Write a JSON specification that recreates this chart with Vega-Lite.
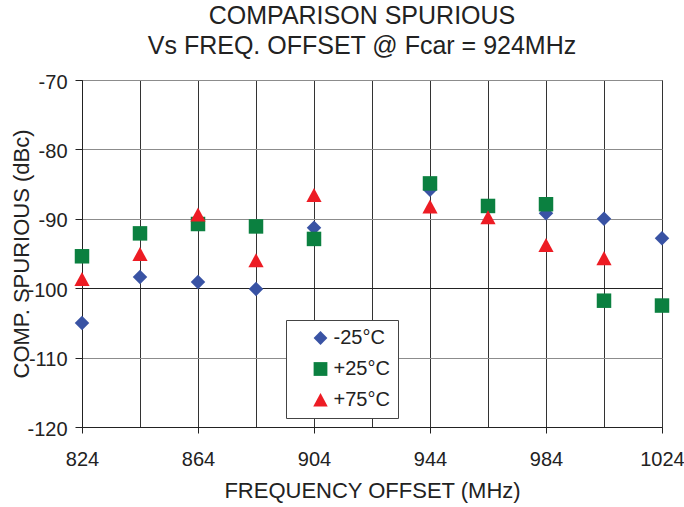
{
  "$schema": "https://vega.github.io/schema/vega-lite/v6.json",
  "width": 580,
  "height": 347,
  "autosize": {"type": "none"},
  "padding": {"left": 82, "top": 80, "right": 22, "bottom": 80},
  "background": "white",
  "config": {
    "font": "Liberation Sans",
    "view": {"stroke": "#222", "strokeWidth": 1}
  },
  "title": {
    "text": ["COMPARISON SPURIOUS", "Vs FREQ. OFFSET @ Fcar = 924MHz"],
    "fontSize": 25,
    "fontWeight": "normal",
    "font": "Liberation Sans",
    "color": "#222",
    "lineHeight": 30,
    "anchor": "middle",
    "frame": "group",
    "baseline": "bottom",
    "offset": 18,
    "dx": -10,
    "dy": 30
  },
  "data": {
    "values": [
      {"freq": 824, "level": -105.0, "temp": "-25°C"},
      {"freq": 844, "level": -98.4, "temp": "-25°C"},
      {"freq": 864, "level": -99.1, "temp": "-25°C"},
      {"freq": 884, "level": -100.1, "temp": "-25°C"},
      {"freq": 904, "level": -91.3, "temp": "-25°C"},
      {"freq": 944, "level": -85.8, "temp": "-25°C"},
      {"freq": 984, "level": -89.2, "temp": "-25°C"},
      {"freq": 1004, "level": -90.0, "temp": "-25°C"},
      {"freq": 1024, "level": -92.8, "temp": "-25°C"},
      {"freq": 824, "level": -95.4, "temp": "+25°C"},
      {"freq": 844, "level": -92.1, "temp": "+25°C"},
      {"freq": 864, "level": -90.75, "temp": "+25°C"},
      {"freq": 884, "level": -91.1, "temp": "+25°C"},
      {"freq": 904, "level": -92.9, "temp": "+25°C"},
      {"freq": 944, "level": -84.9, "temp": "+25°C"},
      {"freq": 964, "level": -88.15, "temp": "+25°C"},
      {"freq": 984, "level": -87.9, "temp": "+25°C"},
      {"freq": 1004, "level": -101.8, "temp": "+25°C"},
      {"freq": 1024, "level": -102.5, "temp": "+25°C"},
      {"freq": 824, "level": -98.7, "temp": "+75°C"},
      {"freq": 844, "level": -95.1, "temp": "+75°C"},
      {"freq": 864, "level": -89.4, "temp": "+75°C"},
      {"freq": 884, "level": -96.0, "temp": "+75°C"},
      {"freq": 904, "level": -86.6, "temp": "+75°C"},
      {"freq": 944, "level": -88.25, "temp": "+75°C"},
      {"freq": 964, "level": -89.8, "temp": "+75°C"},
      {"freq": 984, "level": -93.8, "temp": "+75°C"},
      {"freq": 1004, "level": -95.7, "temp": "+75°C"}
    ]
  },
  "mark": {"type": "point", "filled": true, "opacity": 1, "size": 210, "strokeWidth": 0},
  "encoding": {
    "x": {
      "field": "freq",
      "type": "quantitative",
      "scale": {"domain": [824, 1024], "nice": false, "zero": false},
      "axis": {
        "values": [824, 844, 864, 884, 904, 924, 944, 964, 984, 1004, 1024],
        "labelExpr": "(datum.value - 824) % 40 === 0 ? '' + datum.value : ''",
        "labelFlush": false,
        "labelOverlap": false,
        "labelFont": "Liberation Sans",
        "labelFontSize": 20,
        "labelColor": "#222",
        "labelPadding": 16,
        "tickSize": 6,
        "tickColor": "#222",
        "tickOpacity": {"condition": {"test": "(datum.value - 824) % 40 === 0", "value": 1}, "value": 0},
        "domainColor": "#222",
        "grid": true,
        "gridColor": "#333",
        "gridOpacity": 1,
        "title": "FREQUENCY OFFSET (MHz)",
        "titleFont": "Liberation Sans",
        "titleFontSize": 22,
        "titleFontWeight": "normal",
        "titleColor": "#222",
        "titleBaseline": "alphabetic",
        "titleY": 70.6
      }
    },
    "y": {
      "field": "level",
      "type": "quantitative",
      "scale": {"domain": [-120, -70], "nice": false, "zero": false},
      "axis": {
        "values": [-120, -110, -100, -90, -80, -70],
        "labelExpr": "'' + datum.value",
        "labelFlush": false,
        "labelOverlap": false,
        "labelFont": "Liberation Sans",
        "labelFontSize": 20,
        "labelColor": "#222",
        "labelPadding": 8,
        "labelOffset": 2,
        "tickSize": 7,
        "tickColor": "#222",
        "domainColor": "#222",
        "grid": true,
        "gridColor": {"condition": {"test": "datum.value === -100", "value": "#222"}, "value": "#8c8c8c"},
        "gridOpacity": 1,
        "title": "COMP. SPURIOUS (dBc)",
        "titleFont": "Liberation Sans",
        "titleFontSize": 22,
        "titleFontWeight": "normal",
        "titleColor": "#222",
        "titleAngle": 270,
        "titleBaseline": "alphabetic",
        "titleAnchor": "middle",
        "titleX": -54
      }
    },
    "color": {
      "field": "temp",
      "type": "nominal",
      "scale": {"domain": ["-25°C", "+25°C", "+75°C"], "range": ["#3953a4", "#0b8040", "#ed1c24"]},
      "legend": {
        "orient": "none",
        "legendX": 204,
        "legendY": 240,
        "title": null,
        "padding": 8,
        "strokeColor": "#444",
        "fillColor": "white",
        "symbolSize": 190,
        "symbolOffset": 16.5,
        "symbolStrokeWidth": 0,
        "symbolOpacity": 1,
        "labelOffset": 3,
        "labelFont": "Liberation Sans",
        "labelFontSize": 20,
        "labelColor": "#222",
        "rowPadding": 11,
        "labelExpr": "(datum.label == '-25°C' ? '\u00a0' : '') + datum.label + '\u00a0\u00a0\u00a0'"
      }
    },
    "shape": {
      "field": "temp",
      "type": "nominal",
      "scale": {"domain": ["-25°C", "+25°C", "+75°C"], "range": ["diamond", "square", "M0,-1L1.05,0.95L-1.05,0.95Z"]},
      "legend": {
        "orient": "none",
        "legendX": 204,
        "legendY": 240,
        "title": null,
        "padding": 8,
        "strokeColor": "#444",
        "fillColor": "white",
        "symbolSize": 190,
        "symbolOffset": 16.5,
        "symbolStrokeWidth": 0,
        "symbolOpacity": 1,
        "labelOffset": 3,
        "labelFont": "Liberation Sans",
        "labelFontSize": 20,
        "labelColor": "#222",
        "rowPadding": 11,
        "labelExpr": "(datum.label == '-25°C' ? '\u00a0' : '') + datum.label + '\u00a0\u00a0\u00a0'"
      }
    }
  }
}
